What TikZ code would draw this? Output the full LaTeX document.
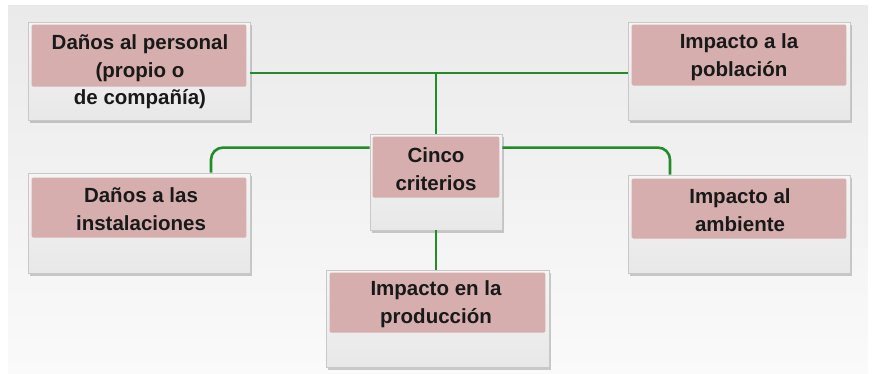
\documentclass[tikz,border=0pt]{standalone}
\usepackage{fontspec}
\setmainfont{Liberation Sans}
\usetikzlibrary{shadows}
\definecolor{bgtop}{RGB}{234,234,234}
\definecolor{bgbot}{RGB}{250,250,250}
\definecolor{pinkband}{RGB}{214,174,174}
\definecolor{cardedge}{RGB}{200,200,200}
\definecolor{conngreen}{RGB}{34,140,40}
\definecolor{txt}{RGB}{25,25,25}
\tikzset{
  card/.style={rectangle, draw=cardedge, line width=0.8pt,
    top color=white!96!black, bottom color=white!91!black,
    drop shadow={shadow xshift=1.5pt, shadow yshift=-2.5pt, fill=black!45, opacity=0.45},
    inner sep=0pt},
  band/.style={fill=pinkband, rounded corners=1.5pt, draw=none},
  lbl/.style={font=\bfseries\fontsize{20.5}{27.5}\selectfont, text=txt, align=center, inner sep=0pt},
  conn/.style={draw=conngreen, line width=2.6pt, rounded corners=12pt}
}
\begin{document}
\begin{tikzpicture}[x=1pt,y=-1pt]
\useasboundingbox (0,0) rectangle (875,373);
\shade[top color=bgtop, bottom color=bgbot] (8,5) rectangle (868,373);

\coordinate (junc) at (436,73);

% cards
\node[card, minimum width=222pt, minimum height=98pt] (per) at (139,71) {};
\node[card, minimum width=222pt, minimum height=98pt] (pob) at (739,71) {};
\node[card, minimum width=132pt, minimum height=96pt] (cin) at (436,182) {};
\node[card, minimum width=222pt, minimum height=100pt] (ins) at (139,223) {};
\node[card, minimum width=222pt, minimum height=98pt] (amb) at (739,224) {};
\node[card, minimum width=223pt, minimum height=97pt] (pro) at (437.5,318.5) {};

% pink bands
\fill[band] ([xshift=4pt,yshift=-3pt]per.north west) rectangle ([xshift=-4pt,yshift=-65pt]per.north east);
\fill[band] ([xshift=4pt,yshift=-3pt]pob.north west) rectangle ([xshift=-4pt,yshift=-64pt]pob.north east);
\fill[band] ([xshift=3pt,yshift=-3pt]cin.north west) rectangle ([xshift=-3pt,yshift=-64pt]cin.north east);
\fill[band] ([xshift=4pt,yshift=-5pt]ins.north west) rectangle ([xshift=-4pt,yshift=-65pt]ins.north east);
\fill[band] ([xshift=4pt,yshift=-4pt]amb.north west) rectangle ([xshift=-4pt,yshift=-64pt]amb.north east);
\fill[band] ([xshift=4pt,yshift=-3pt]pro.north west) rectangle ([xshift=-4pt,yshift=-63pt]pro.north east);

% labels
\node[lbl] (tper) at (140,72) {Daños al personal\\(propio o\\de compañía)};
\node[lbl] (tpob) at (739,57) {Impacto a la\\población};
\node[lbl] (tcin) at (436,169) {Cinco\\criterios};
\node[lbl] (tins) at (141,209) {Daños a las\\instalaciones};
\node[lbl] (tamb) at (740,210) {Impacto al\\ambiente};
\node[lbl] (tpro) at (436,304) {Impacto en la\\producción};

% connectors
\draw[conn, rounded corners=0pt] (per.east |- junc) -- (pob.west |- junc);
\draw[conn, rounded corners=0pt] (junc) -- (cin.north);
\draw[conn] ([yshift=-14pt]cin.north west) -| ([xshift=72pt]ins.north);
\draw[conn] ([yshift=-14pt]cin.north east) -| ([xshift=-69pt]amb.north);
\draw[conn, rounded corners=0pt] (cin.south) -- (cin.south |- pro.north);
\end{tikzpicture}
\end{document}
